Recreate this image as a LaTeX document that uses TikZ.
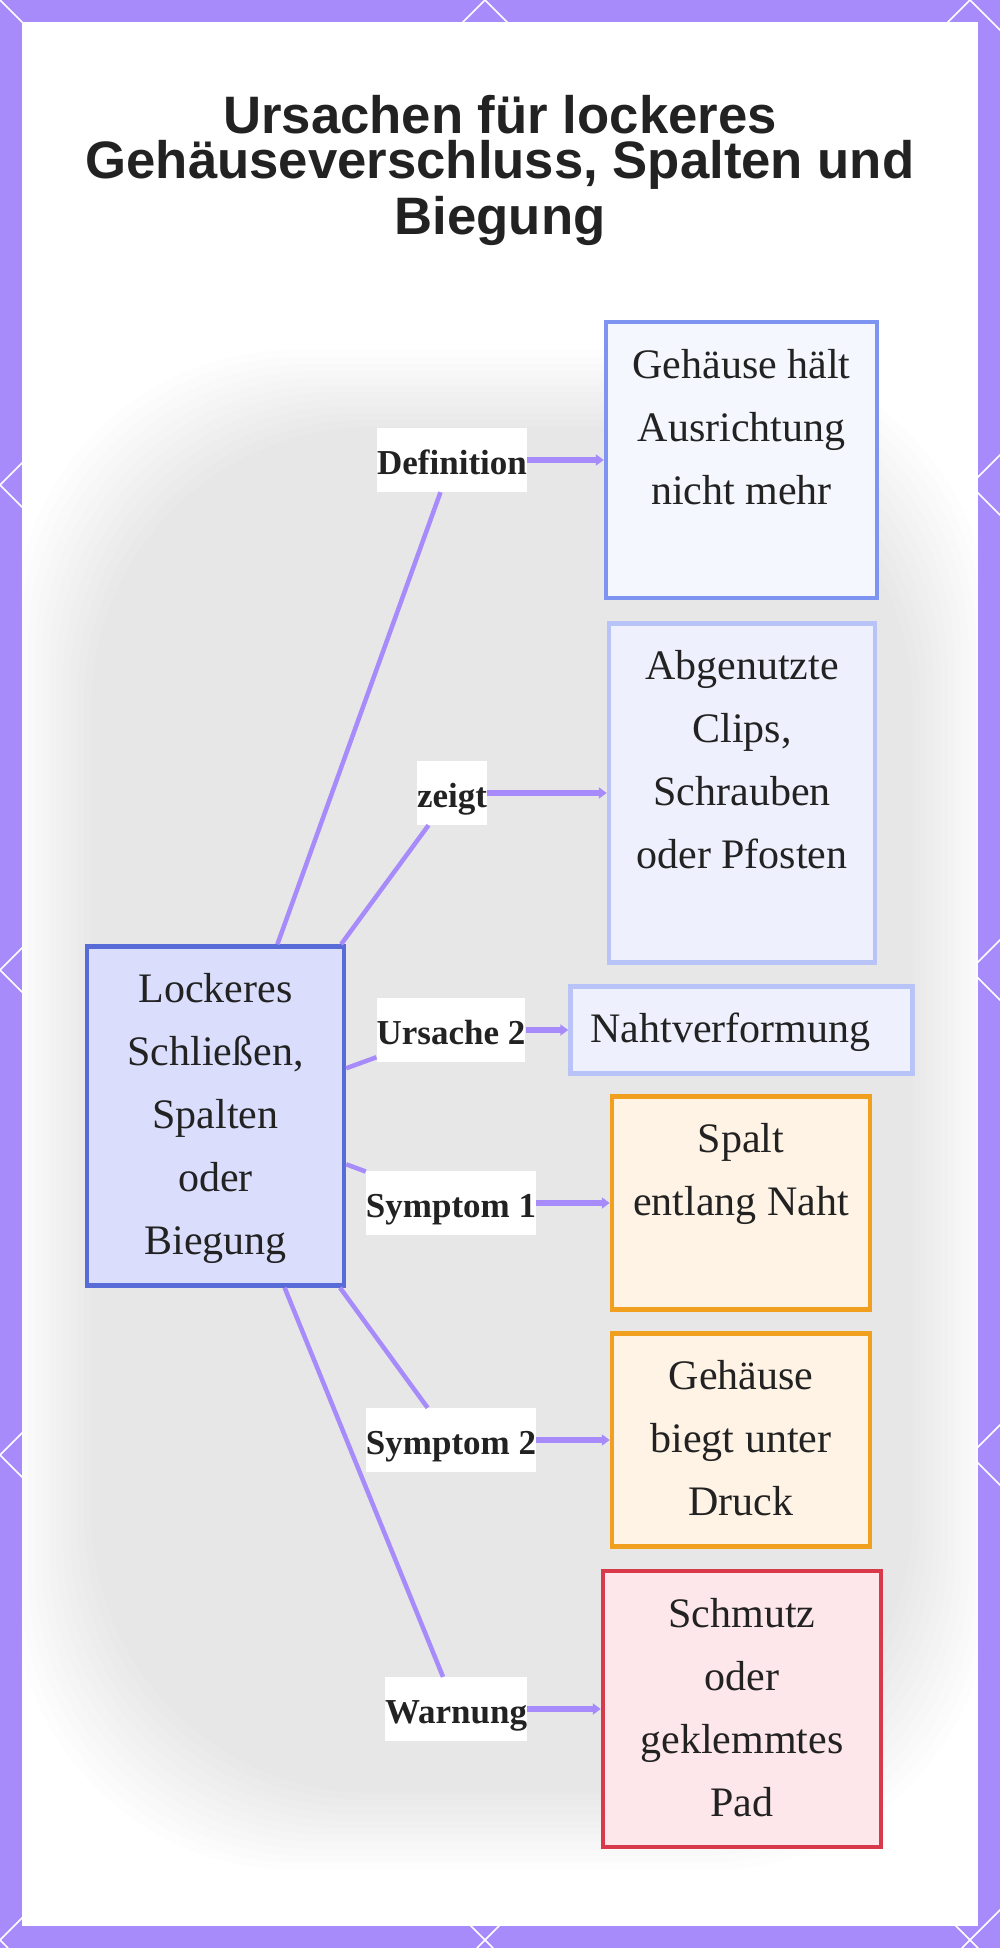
\documentclass[tikz,border=0pt]{standalone}
\usepackage{fontspec}
\setmainfont{Liberation Serif}
\newfontfamily\titlefont{Liberation Sans}
\usetikzlibrary{arrows.meta}
\definecolor{frame}{HTML}{A78BFA}
\definecolor{link}{HTML}{A78BFA}
\definecolor{ink}{HTML}{222222}
\definecolor{mainline}{HTML}{586CD8}
\definecolor{mainfill}{HTML}{DADEFC}
\definecolor{defline}{HTML}{7D94F1}
\definecolor{deffill}{HTML}{F5F7FE}
\definecolor{causeline}{HTML}{B8C4F8}
\definecolor{causefill}{HTML}{EEF1FD}
\definecolor{symline}{HTML}{F0A01E}
\definecolor{symfill}{HTML}{FEF3E4}
\definecolor{warnline}{HTML}{D83A4C}
\definecolor{warnfill}{HTML}{FDE7EB}
\tikzset{
  box/.style={draw,line width=4.5pt,align=center,inner xsep=8pt,inner ysep=12pt,
    text=ink,font=\fontsize{42}{63}\selectfont},
  edgelabel/.style={fill=white,inner xsep=0pt,minimum height=64pt,text height=30pt,
    text depth=2pt,text=ink,font=\bfseries\fontsize{35}{42}\selectfont},
  link/.style={draw=link,line width=4.5pt},
  linkarrow/.style={link,line width=6pt,-{Triangle[length=8pt,width=11pt]}}
}
\begin{document}
\begin{tikzpicture}[x=1pt,y=-1pt]
  \useasboundingbox (0,0) rectangle (1000,1948);
  % frame with diamond lines
  \fill[frame] (0,0) rectangle (1000,1948);
  \begin{scope}
    \clip (0,0) rectangle (1000,1948);
    \foreach \c in {0,485,...,2910} \draw[white,line width=1.5pt] (\c,0) -- ({\c-1948},1948);
    \foreach \c in {-1940,-1455,...,970} \draw[white,line width=1.5pt] (\c,0) -- ({\c+1948},1948);
  \end{scope}
  \fill[white] (22,22) rectangle (978,1926);
  % blurred backdrop
  \begin{scope}
    \clip (22,22) rectangle (978,1926);
    \foreach \i in {0,...,11}
      \fill[black!70!blue,opacity=0.009,rounded corners=280pt]
        ({14+7*\i},{350+7*\i}) rectangle ({990-7*\i},{1870-7*\i});
  \end{scope}

  \node[anchor=north,inner sep=0pt,align=center,text=ink,
    font=\titlefont\bfseries\fontsize{52.7}{52}\selectfont] (title) at (500,95)
    {Ursachen für lockeres\\[-7pt]Gehäuseverschluss, Spalten und\\[4pt]Biegung};

  \node[box,draw=mainline,fill=mainfill,minimum width=257pt] (lock) at (215.5,1116)
    {\strut Lockeres\\Schließen,\\Spalten\\oder\\Biegung\strut};
  \node[box,draw=defline,fill=deffill,minimum width=271pt] (def) at (741.5,460)
    {\strut Gehäuse hält\\Ausrichtung\\nicht mehr\\\strut};
  \node[box,draw=causeline,fill=causefill,minimum width=266pt] (clips) at (742,793)
    {\strut Abgenutzte\\Clips,\\Schrauben\\oder Pfosten\\\strut};
  \node[box,draw=causeline,fill=causefill,inner xsep=20pt,text width=302pt,align=left] (naht) at (741.5,1030)
    {\strut Nahtverformung};
  \node[box,draw=symline,fill=symfill,minimum width=258pt] (spalt) at (741,1203)
    {\strut Spalt\\entlang Naht\\\strut};
  \node[box,draw=symline,fill=symfill,minimum width=258pt] (biegt) at (741,1440)
    {\strut Gehäuse\\biegt unter\\Druck\strut};
  \node[box,draw=warnline,fill=warnfill,minimum width=278pt] (pad) at (742,1709)
    {\strut Schmutz\\oder\\geklemmtes\\Pad\strut};

  \node[edgelabel] (lDef) at (452,460) {Definition};
  \node[edgelabel] (lZeigt) at (452,793) {zeigt};
  \node[edgelabel] (lUrs) at (451,1030) {Ursache 2};
  \node[edgelabel] (lSym1) at (451,1203) {Symptom 1};
  \node[edgelabel] (lSym2) at (451,1440) {Symptom 2};
  \node[edgelabel] (lWarn) at (456,1709) {Warnung};

  \foreach \l/\b in {lDef/def,lZeigt/clips,lUrs/naht,lSym1/spalt,lSym2/biegt,lWarn/pad} {
    \draw[link] (lock) -- (\l);
    \draw[linkarrow] (\l) -- (\b);
  }
\end{tikzpicture}
\end{document}
